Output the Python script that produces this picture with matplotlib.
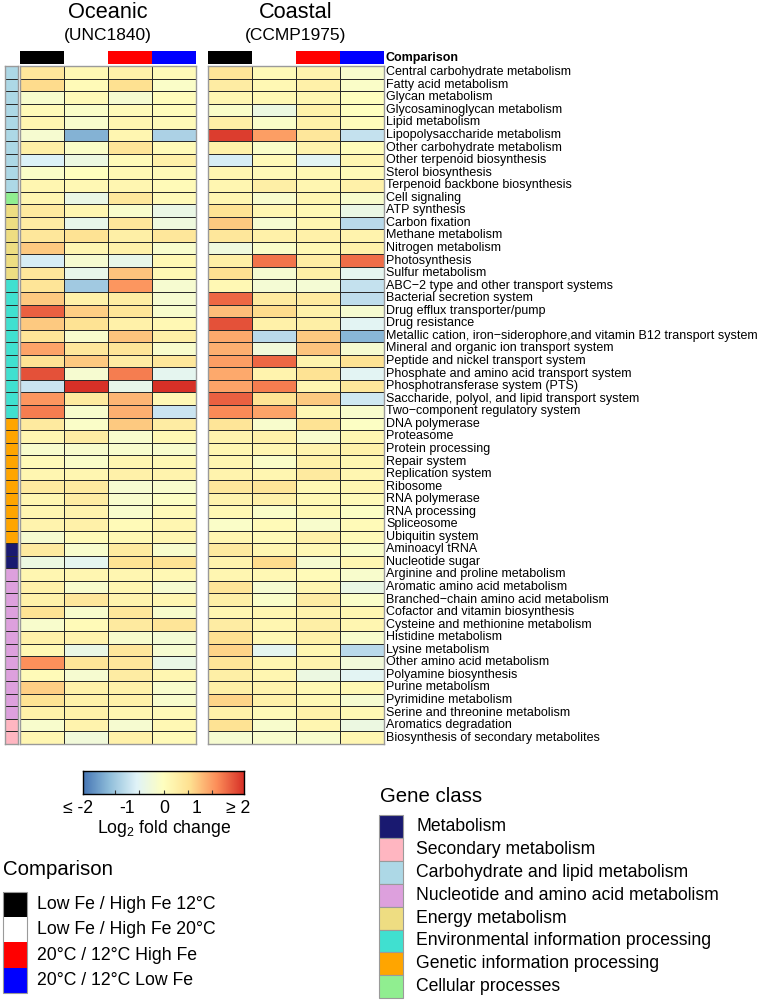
import numpy as np
import matplotlib
matplotlib.use("Agg")
import matplotlib.pyplot as plt
from matplotlib.colors import LinearSegmentedColormap, ListedColormap
from matplotlib.patches import Rectangle

plt.rcParams['font.family'] = ['Liberation Sans', 'DejaVu Sans']
plt.rcParams['mathtext.fontset'] = 'custom'
plt.rcParams['mathtext.rm'] = 'Liberation Sans'

pathways = [
    "Central carbohydrate metabolism", "Fatty acid metabolism", "Glycan metabolism",
    "Glycosaminoglycan metabolism", "Lipid metabolism", "Lipopolysaccharide metabolism",
    "Other carbohydrate metabolism", "Other terpenoid biosynthesis", "Sterol biosynthesis",
    "Terpenoid backbone biosynthesis", "Cell signaling", "ATP synthesis", "Carbon fixation",
    "Methane metabolism", "Nitrogen metabolism", "Photosynthesis", "Sulfur metabolism",
    "ABC\u22122 type and other transport systems", "Bacterial secretion system",
    "Drug efflux transporter/pump", "Drug resistance",
    "Metallic cation, iron\u2212siderophore,and vitamin B12 transport system",
    "Mineral and organic ion transport system", "Peptide and nickel transport system",
    "Phosphate and amino acid transport system", "Phosphotransferase system (PTS)",
    "Saccharide, polyol, and lipid transport system", "Two\u2212component regulatory system",
    "DNA polymerase", "Proteasome", "Protein processing", "Repair system",
    "Replication system", "Ribosome", "RNA polymerase", "RNA processing", "Spliceosome",
    "Ubiquitin system", "Aminoacyl tRNA", "Nucleotide sugar",
    "Arginine and proline metabolism", "Aromatic amino acid metabolism",
    "Branched\u2212chain amino acid metabolism", "Cofactor and vitamin biosynthesis",
    "Cysteine and methionine metabolism", "Histidine metabolism", "Lysine metabolism",
    "Other amino acid metabolism", "Polyamine biosynthesis", "Purine metabolism",
    "Pyrimidine metabolism", "Serine and threonine metabolism", "Aromatics degradation",
    "Biosynthesis of secondary metabolites",
]

gene_class_names = ["Metabolism", "Secondary metabolism", "Carbohydrate and lipid metabolism",
                    "Nucleotide and amino acid metabolism", "Energy metabolism",
                    "Environmental information processing", "Genetic information processing",
                    "Cellular processes"]
gene_class_colors = ["#191970", "#FFB6C1", "#ADD8E6", "#DDA0DD", "#EEDD82",
                     "#40E0D0", "#FFA500", "#90EE90"]
# gene class index per pathway
row_class = [2]*10 + [7] + [4]*6 + [5]*11 + [6]*10 + [0]*2 + [3]*12 + [1]*2

comparison_names = ["Low Fe / High Fe 12\u00b0C", "Low Fe / High Fe 20\u00b0C",
                    "20\u00b0C / 12\u00b0C High Fe", "20\u00b0C / 12\u00b0C Low Fe"]
comparison_colors = ["#000000", "#FFFFFF", "#FF0000", "#0000FF"]

# log2 fold change, Oceanic (UNC1840): columns = 4 comparisons
oceanic = [
    [0.5, 0.15, 0.3, 0.1], [0.7, 0.1, 0.65, -0.1], [-0.15, 0.1, -0.2, 0.05],
    [0.1, -0.1, 0.1, 0.05], [0.2, -0.15, 0.2, 0.1], [-0.2, -1.45, 0.2, -1.1],
    [0.35, -0.1, 0.55, 0.1], [-0.7, -0.4, 0.1, 0.3], [-0.1, 0.0, 0.15, 0.1],
    [0.2, 0.15, 0.2, 0.1], [0.2, -0.45, 0.5, 0.1], [0.45, 0.2, -0.15, -0.45],
    [0.4, -0.5, 0.5, -0.35], [0.5, 0.6, 0.35, 0.5], [0.85, 0.2, 0.3, -0.15],
    [-0.75, -0.2, -0.5, 0.15], [0.5, -0.5, 0.9, 0.15], [0.55, -1.2, 1.25, -0.2],
    [0.85, 0.3, 0.4, -0.2], [1.65, 0.8, 0.55, -0.15], [0.85, 0.6, 0.3, 0.15],
    [0.55, -0.15, 0.9, 0.35], [1.15, 0.5, 0.55, -0.15], [0.6, 0.85, 0.4, 0.5],
    [1.75, -0.2, 1.45, -0.55], [-0.85, 2.0, -0.5, 2.0], [1.25, 0.45, 1.0, 0.15],
    [1.45, -0.15, 1.05, -0.85], [0.45, -0.1, 0.85, 0.4], [0.2, 0.4, -0.15, 0.15],
    [-0.15, -0.15, -0.15, -0.15], [0.1, -0.1, 0.2, 0.15], [0.2, 0.2, 0.3, 0.25],
    [0.45, 0.45, -0.2, -0.15], [0.2, 0.4, -0.15, -0.05], [0.2, 0.25, -0.15, 0.1],
    [0.25, 0.3, 0.1, 0.2], [-0.2, 0.1, 0.15, 0.2], [0.45, -0.15, 0.45, -0.15],
    [-0.4, -0.55, 0.6, 0.6], [0.2, 0.2, 0.2, 0.15], [0.3, -0.15, 0.2, -0.2],
    [0.3, 0.5, 0.25, 0.2], [0.6, -0.15, 0.5, -0.15], [-0.15, 0.1, 0.45, 0.55],
    [0.3, 0.25, -0.15, -0.25], [0.15, -0.45, 0.5, -0.2], [1.3, 0.55, 0.5, -0.45],
    [0.1, -0.2, 0.4, 0.2], [0.8, 0.3, 0.3, -0.15], [0.6, 0.3, 0.3, -0.15],
    [0.3, 0.3, 0.2, 0.1], [-0.15, 0.25, -0.2, 0.15], [0.2, -0.3, 0.3, 0.1],
]
# log2 fold change, Coastal (CCMP1975)
coastal = [
    [0.55, 0.1, 0.25, -0.15], [0.4, 0.15, 0.3, -0.1], [0.2, 0.15, 0.2, 0.0],
    [-0.1, -0.4, 0.3, 0.0], [0.35, -0.1, 0.3, 0.05], [1.9, 1.2, 0.5, -0.9],
    [0.3, -0.1, 0.25, 0.05], [-0.75, 0.1, -0.6, 0.2], [0.2, 0.1, 0.15, 0.1],
    [0.2, 0.35, 0.2, 0.3], [0.2, -0.15, 0.2, -0.15], [0.6, 0.2, 0.15, -0.45],
    [0.85, -0.2, 0.2, -1.0], [0.5, 0.3, 0.3, 0.25], [-0.35, -0.1, 0.15, 0.3],
    [0.35, 1.5, 0.4, 1.55], [0.65, -0.2, 0.35, -0.55], [0.15, -0.25, -0.25, -0.9],
    [1.6, 0.45, 0.45, -0.95], [0.95, 0.7, 0.3, -0.2], [1.75, 0.3, 0.35, -0.6],
    [1.1, -1.0, 0.85, -1.4], [1.05, -0.3, 0.9, -0.2], [1.2, 1.6, 0.25, 0.6],
    [1.1, 0.25, 0.6, -0.6], [1.15, 1.45, 0.2, 0.5], [1.65, 0.6, 0.85, -0.8],
    [1.35, 1.15, 0.15, -0.15], [0.55, -0.15, 0.6, -0.05], [0.25, 0.3, -0.15, 0.2],
    [0.2, 0.2, 0.25, 0.3], [0.2, -0.1, 0.3, 0.2], [0.25, 0.2, 0.45, 0.2],
    [0.5, 0.55, 0.15, 0.2], [0.25, 0.3, 0.15, 0.1], [0.15, -0.1, 0.15, -0.05],
    [-0.1, 0.1, -0.15, 0.1], [0.2, 0.1, 0.3, 0.1], [0.45, 0.2, 0.15, -0.1],
    [0.25, 0.7, -0.2, 0.2], [0.2, 0.15, 0.1, -0.15], [0.55, -0.2, 0.2, -0.45],
    [0.35, -0.1, 0.4, -0.1], [0.2, 0.2, 0.25, 0.2], [0.4, 0.2, 0.35, 0.2],
    [0.65, 0.15, 0.3, -0.15], [0.75, -0.55, 0.2, -1.0], [0.55, 0.2, 0.25, -0.3],
    [0.35, 0.2, -0.4, -0.6], [0.35, 0.25, 0.15, 0.15], [0.75, 0.3, 0.15, -0.2],
    [0.3, 0.1, 0.3, 0.15], [0.6, -0.15, 0.2, -0.4], [-0.2, -0.15, -0.15, 0.2],
]

cbar_values = [-2, -1, 0, 1, 2]
cbar_labels = ["\u2264 -2", "-1", "0", "1", "\u2265 2"]

W, H = 758, 1000
fig = plt.figure(figsize=(W/100, H/100), dpi=100)

def ax_px(x0, y0, x1, y1):
    return fig.add_axes([x0/W, 1 - y1/H, (x1 - x0)/W, (y1 - y0)/H])

cmap = LinearSegmentedColormap.from_list(
    "rdylbu7", ["#4575B4", "#91BFDB", "#E0F3F8", "#FFFFBF", "#FEE090", "#FC8D59", "#D73027"])
line_col = "#2a2a2a"
frame_col = "#9a9a9a"
top, bottom = 66, 744
nrow = len(pathways)
grid_lw = 0.65

def style(ax):
    ax.set_xticks([]); ax.set_yticks([])
    for s in ax.spines.values():
        s.set_color(frame_col); s.set_linewidth(1.0)

# gene class strip
ax_g = ax_px(5, top, 18, bottom)
ax_g.pcolormesh(np.array(row_class).reshape(-1, 1), cmap=ListedColormap(gene_class_colors),
                vmin=-0.5, vmax=len(gene_class_colors)-0.5, edgecolors=line_col, linewidth=grid_lw)
ax_g.set_ylim(nrow, 0)
style(ax_g)

panels = [(oceanic, 20, 196, "Oceanic", "(UNC1840)"), (coastal, 208, 384, "Coastal", "(CCMP1975)")]
for data, x0, x1, title, sub in panels:
    ax = ax_px(x0, top, x1, bottom)
    ax.pcolormesh(np.array(data), cmap=cmap, vmin=-2, vmax=2, edgecolors=line_col, linewidth=grid_lw)
    ax.set_ylim(nrow, 0)
    style(ax)
    axc = ax_px(x0, 51, x1, 64)
    axc.pcolormesh(np.arange(4).reshape(1, -1), cmap=ListedColormap(comparison_colors),
                   vmin=-0.5, vmax=3.5)
    axc.set_xticks([]); axc.set_yticks([])
    for s in axc.spines.values():
        s.set_visible(False)
    xc = (x0 + x1) / 2 / W
    fig.text(xc, 1 - 18/H, title, ha='center', va='baseline', fontsize=15.7)
    fig.text(xc, 1 - 40/H, sub, ha='center', va='baseline', fontsize=12.5)

# row labels
row_h = (bottom - top) / nrow
for i, lab in enumerate(pathways):
    yc = top + (i + 0.5) * row_h
    fig.text(386/W, 1 - yc/H, lab, ha='left', va='center', fontsize=9)
fig.text(386/W, 1 - 58/H, "Comparison", ha='left', va='center', fontsize=9, fontweight='bold')

# colorbar
ax_cb = ax_px(83, 771, 244, 794)
grad = np.linspace(-2, 2, 256).reshape(1, -1)
ax_cb.imshow(grad, aspect='auto', cmap=cmap, vmin=-2, vmax=2, extent=[-2, 2, 0, 1])
ax_cb.set_xlim(-2, 2); ax_cb.set_ylim(0, 1)
ax_cb.set_yticks([])
ax_cb.set_xticks([-1.2, -0.6, 0, 0.6, 1.2])
ax_cb.tick_params(axis='x', direction='in', length=3, width=0.8, colors='#333333', labelbottom=False)
for s in ax_cb.spines.values():
    s.set_color('black'); s.set_linewidth(1.0)
cb_label_px = [78, 127, 164, 197, 238]
for v, lab, px in zip(cbar_values, cbar_labels, cb_label_px):
    fig.text(px/W, 1 - 813/H, lab, ha='center', va='baseline', fontsize=12.7)
fig.text(164/W, 1 - 833/H, r"Log$_\mathrm{2}$ fold change", ha='center', va='baseline', fontsize=12.7)

# comparison legend
fig.text(3/W, 1 - 875/H, "Comparison", ha='left', va='baseline', fontsize=14.7)
leg_ax = ax_px(0, 0, W, H)
leg_ax.set_xlim(0, W); leg_ax.set_ylim(H, 0); leg_ax.axis('off')
leg_ax.patch.set_alpha(0)
box_h = 25.2
for i, (name, col) in enumerate(zip(comparison_names, comparison_colors)):
    y0 = 892 + i * box_h
    leg_ax.add_patch(Rectangle((3, y0), 24, box_h, facecolor=col, edgecolor='none'))
    leg_ax.text(37, y0 + box_h/2, name, ha='left', va='center', fontsize=12.7)
leg_ax.add_patch(Rectangle((3, 892), 24, 4*box_h, facecolor='none', edgecolor=frame_col, lw=0.8))

# gene class legend
fig.text(380/W, 1 - 802/H, "Gene class", ha='left', va='baseline', fontsize=14.7)
gbox_h = 22.9
for i, (name, col) in enumerate(zip(gene_class_names, gene_class_colors)):
    y0 = 815 + i * gbox_h
    leg_ax.add_patch(Rectangle((379, y0), 24, gbox_h, facecolor=col, edgecolor=frame_col, lw=0.8))
    leg_ax.text(416, y0 + gbox_h/2, name, ha='left', va='center', fontsize=12.7)

fig.savefig("out.png", dpi=100)
